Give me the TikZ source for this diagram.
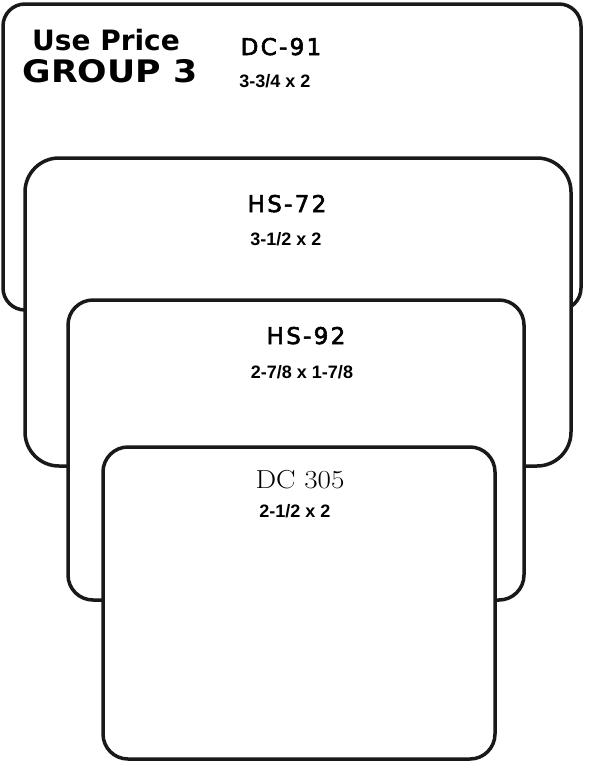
\documentclass[tikz,border=0pt]{standalone}
\usepackage{fontspec}
\newfontfamily\headfont{DejaVu Sans}
\newfontfamily\sizefont{Liberation Sans}
\newfontfamily\codefont[LetterSpace=10,FakeBold=2.5]{DejaVu Sans}
\begin{document}
\begin{tikzpicture}[x=1pt,y=-1pt,
  card/.style={draw=black!90,line width=3.5pt,fill=white,rectangle,rounded corners=#1,inner sep=0pt},
  card/.default=25pt,
  modelname/.style={anchor=base,font=\codefont\fontsize{23}{23}\selectfont},
  sizetext/.style={anchor=base,font=\sizefont\bfseries\fontsize{18}{18}\selectfont},
  grouptext/.style={anchor=base,font=\headfont\bfseries\fontsize{#1}{#1}\selectfont}]
\useasboundingbox (0,0) rectangle (589,769);
% back to front
\node[card=22pt,minimum width=578pt,minimum height=306pt] (dc91) at (292,157) {};
\node[card=34pt,minimum width=546pt,minimum height=308pt] (hs72) at (298,312) {};
\node[card,minimum width=456pt,minimum height=300pt] (hs92) at (296,450) {};
\node[card,minimum width=392pt,minimum height=312pt] (dc305) at (299,603) {};
% header
\node[grouptext=28] (useprice) at (106,50) {Use Price};
\node[grouptext=31,xscale=1.12] (group) at (110,82) {GROUP 3};
% labels
\node[modelname] (dc91name) at (281,55) {DC-91};
\node[sizetext] (dc91size) at (275,87) {3-3/4 x 2};
\node[modelname] (hs72name) at (287,212) {HS-72};
\node[sizetext] (hs72size) at (286,245) {3-1/2 x 2};
\node[modelname] (hs92name) at (306,344) {HS-92};
\node[sizetext] (hs92size) at (302,378) {2-7/8 x 1-7/8};
\node[anchor=base,xscale=1.12,font=\fontsize{26}{26}\selectfont] (dc305name) at (300,488) {DC 305};
\node[sizetext] (dc305size) at (295,517) {2-1/2 x 2};
\end{tikzpicture}
\end{document}
